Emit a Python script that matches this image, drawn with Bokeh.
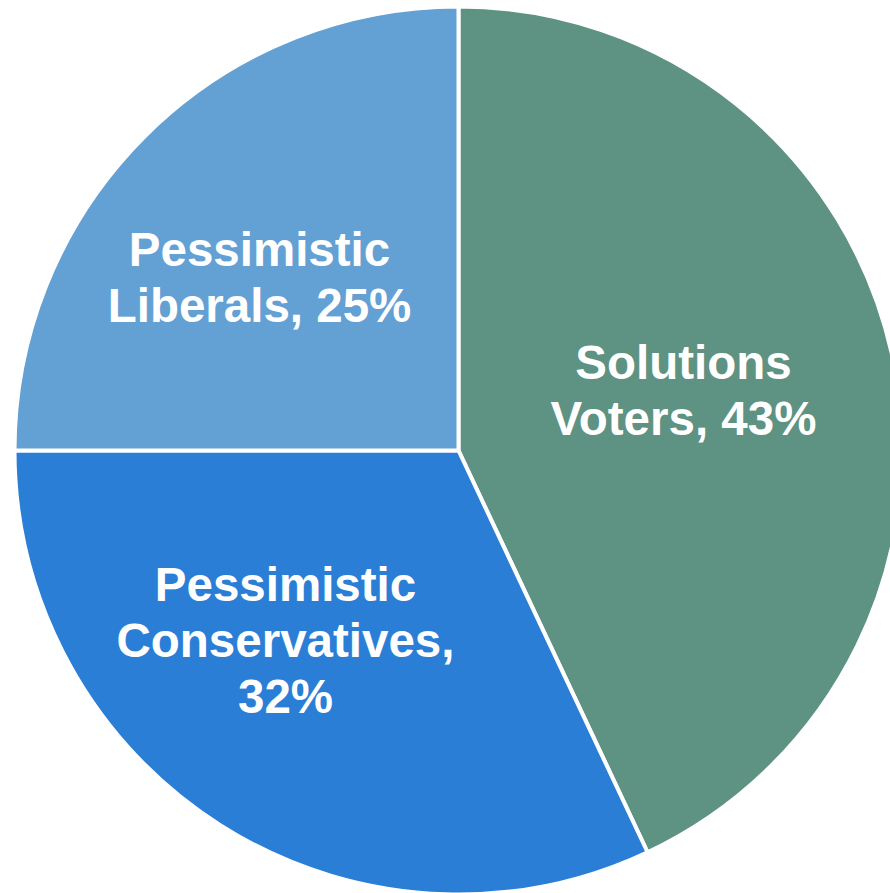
import math
from bokeh.plotting import figure
from bokeh.models import ColumnDataSource, Range1d
from bokeh.core.properties import value
from bokeh.embed import file_html
from bokeh.resources import INLINE

# ---- data ----
categories = ["Solutions Voters", "Pessimistic Conservatives", "Pessimistic Liberals"]
shares = [43, 32, 25]
labels = ["Solutions\nVoters, 43%", "Pessimistic\nConservatives,\n32%", "Pessimistic\nLiberals, 25%"]
colors = ["#5E9282", "#2B7ED6", "#63A0D3"]

# ---- layout (picture pixels) ----
W, H = 890, 893
cx_page, cy_page, R = 458, 450, 444
# label anchor: centre x, first-line baseline y (picture px)
label_anchor = [(683, 362), (285, 584), (259, 249)]
LINE_STEP = 56
FONT_PX = 47.5

def to_data(px, py):
    return px, H - py

cx, cy = to_data(cx_page, cy_page)

starts, ends = [], []
acc = 0.0
total = float(sum(shares))
for s in shares:
    a0 = math.pi / 2 - 2 * math.pi * acc / total
    acc += s
    a1 = math.pi / 2 - 2 * math.pi * acc / total
    starts.append(a0)
    ends.append(a1)

src = ColumnDataSource(dict(x=[cx] * len(shares), y=[cy] * len(shares),
                            start=starts, end=ends, color=colors, cat=categories))

p = figure(width=W, height=H, output_backend="svg", toolbar_location=None,
           x_range=Range1d(0, W), y_range=Range1d(0, H), min_border=0)
p.axis.visible = False
p.grid.visible = False
p.outline_line_color = None
p.background_fill_color = "white"
p.border_fill_color = "white"

p.wedge(x="x", y="y", radius=R, start_angle="start", end_angle="end",
        direction="clock", fill_color="color", line_color="white", line_width=4,
        source=src)

tx, ty, tt = [], [], []
for lab, (ax, ay) in zip(labels, label_anchor):
    for i, line in enumerate(lab.split("\n")):
        dx, dy = to_data(ax, ay + i * LINE_STEP)
        tx.append(dx)
        ty.append(dy)
        tt.append(line)

p.text(x=tx, y=ty, text=tt, text_align="center", text_baseline="alphabetic",
       text_color="white", text_font=value("Liberation Sans"),
       text_font_style="bold", text_font_size=f"{FONT_PX}px")

open("out.html", "w").write(file_html(p, INLINE))
